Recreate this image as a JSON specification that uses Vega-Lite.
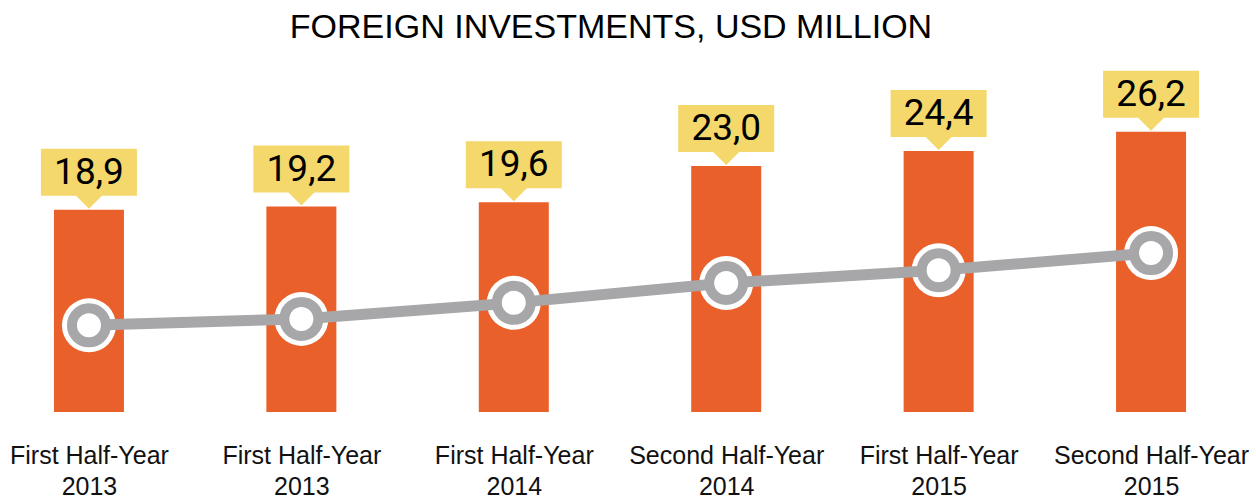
{
 "$schema": "https://vega.github.io/schema/vega-lite/v6.json",
 "width": 1238, "height": 321,
 "autosize": {"type": "none"},
 "padding": {"left": 1, "top": 91, "right": 17, "bottom": 89},
 "background": "white",
 "config": {"view": {"stroke": null}},
 "title": {"text": "FOREIGN INVESTMENTS, USD MILLION", "font": "Liberation Sans", "fontSize": 34, "fontWeight": "normal", "color": "#000", "anchor": "middle", "frame": "group", "baseline": "alphabetic", "offset": -1, "dx": -9},
 "data": {"values": [
   {"key": "First Half-Year|2013|a", "value": 18.9, "label": "18,9", "trend": 8.1},
   {"key": "First Half-Year|2013|b", "value": 19.2, "label": "19,2", "trend": 8.7},
   {"key": "First Half-Year|2014", "value": 19.6, "label": "19,6", "trend": 10.2},
   {"key": "Second Half-Year|2014", "value": 23.0, "label": "23,0", "trend": 12.05},
   {"key": "First Half-Year|2015", "value": 24.4, "label": "24,4", "trend": 13.25},
   {"key": "Second Half-Year|2015", "value": 26.2, "label": "26,2", "trend": 14.85}
 ]},
 "encoding": {"x": {"field": "key", "type": "nominal", "sort": null, "scale": {"type": "point", "padding": 0.414}, "axis": {"title": null, "domain": false, "ticks": false, "labelAngle": 0, "labelPadding": 31, "labelLimit": 0, "labelFont": "Liberation Sans", "labelFontSize": 25, "labelColor": "#111", "labelLineHeight": 31, "labelExpr": "[split(datum.value,'|')[0], split(datum.value,'|')[1]]"}}},
 "layer": [
  {"mark": {"type": "bar", "width": 70, "color": "#E9602A"}, "encoding": {"y": {"field": "value", "type": "quantitative", "scale": {"domain": [0, 30], "nice": false}, "axis": null}}},
  {"mark": {"type": "point", "shape": "circle", "filled": true, "color": "white", "opacity": 1, "size": 2916}, "encoding": {"y": {"field": "trend", "type": "quantitative", "axis": null}}},
  {"mark": {"type": "line", "color": "#A7A7A9", "strokeWidth": 11}, "encoding": {"y": {"field": "trend", "type": "quantitative", "axis": null}}},
  {"mark": {"type": "point", "shape": "circle", "filled": false, "fill": "white", "stroke": "#A7A7A9", "strokeWidth": 10, "opacity": 1, "size": 1156}, "encoding": {"y": {"field": "trend", "type": "quantitative", "axis": null}}},
  {"mark": {"type": "point", "shape": "M-0.96,-1.22L0.96,-1.22L0.96,-0.28L0.26,-0.28L0,-0.02L-0.26,-0.28L-0.96,-0.28Z", "filled": true, "color": "#F4D86B", "opacity": 1, "size": 10000}, "encoding": {"y": {"field": "value", "type": "quantitative", "axis": null}}},
  {"mark": {"type": "text", "font": "Roboto", "fontSize": 37, "color": "#000", "dy": -37, "baseline": "middle"}, "encoding": {"y": {"field": "value", "type": "quantitative", "axis": null}, "text": {"field": "label"}}}
 ]
}
